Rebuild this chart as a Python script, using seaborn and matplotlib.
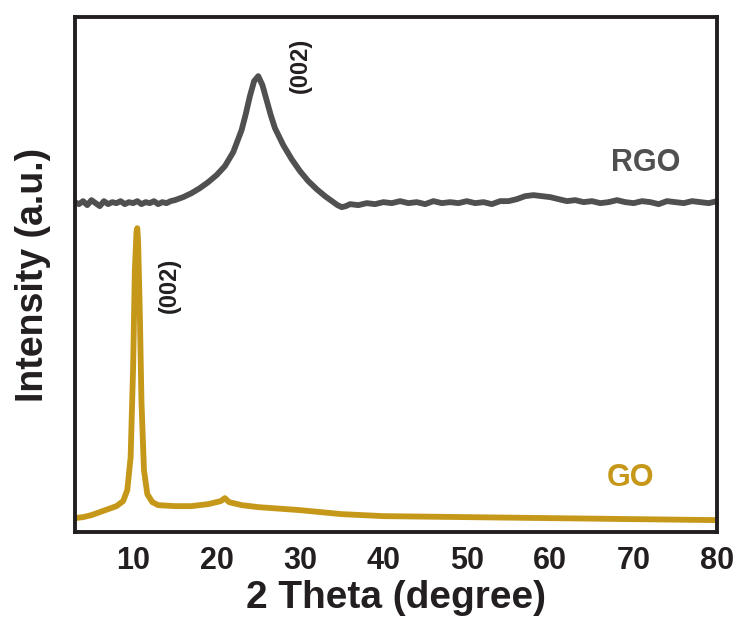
import numpy as np
import pandas as pd
import matplotlib
matplotlib.use("Agg")
import matplotlib.pyplot as plt
import seaborn as sns

# RGO pattern (2theta in degree, intensity in a.u., offset above GO)
rgo_theta = [3, 3.5, 4, 4.5, 5, 5.5, 6, 6.5, 7, 7.5, 8, 8.5, 9, 9.5, 10, 10.5, 11,
             11.5, 12, 12.5, 13, 13.5, 14, 14.5, 15, 16, 17, 18, 19, 20, 21, 22,
             23, 23.5, 24, 24.5, 25, 25.5, 26, 26.5, 27, 28, 29, 30, 31, 32, 33,
             34, 34.5, 35, 35.5, 36, 37, 38, 39, 40, 41, 42, 43, 44, 45, 46, 47,
             48, 49, 50, 51, 52, 53, 54, 55, 56, 57, 58, 59, 60, 61, 62, 63, 64,
             65, 66, 67, 68, 69, 70, 71, 72, 73, 74, 75, 76, 77, 78, 79, 80]
rgo_int = [330, 328, 331, 327, 332, 329, 326, 331, 328, 330, 329, 331, 328, 330, 329, 331, 328,
           330, 329, 331, 328, 330, 329, 331, 332, 335, 339, 344, 350, 357, 366, 380,
           402, 418, 436, 451, 456, 447, 432, 417, 404, 387, 373, 361, 351, 343, 336,
           330, 327, 325, 326, 328, 327, 329, 328, 330, 329, 331, 329, 330, 328, 331, 329,
           330, 329, 331, 329, 330, 328, 331, 331, 333, 336, 337, 336, 335, 333, 331, 332, 330,
           331, 329, 330, 332, 330, 329, 331, 330, 328, 331, 330, 329, 331, 330, 329, 331]

# GO pattern
go_theta = [3, 4, 5, 6, 7, 8, 8.8, 9.3, 9.7, 10.0, 10.2, 10.4, 10.5, 10.6, 10.8,
            11.0, 11.3, 11.7, 12.3, 13, 15, 17, 19, 20.5, 21, 21.5, 23, 25,
            30, 35, 40, 50, 60, 70, 80]
go_int = [14, 15, 17, 20, 23, 26, 31, 42, 75, 165, 260, 300, 304, 290, 220,
          130, 62, 38, 30, 27, 26, 26, 28, 31, 34, 30, 27, 25,
          22, 18, 16, 15, 14, 13, 12]

df = pd.concat([
    pd.DataFrame({"theta": rgo_theta, "intensity": rgo_int, "sample": "RGO"}),
    pd.DataFrame({"theta": go_theta, "intensity": go_int, "sample": "GO"}),
])

sns.set_style("white")
plt.rcParams["font.family"] = ["Liberation Sans", "DejaVu Sans"]
plt.rcParams["font.weight"] = "bold"

frame_color = "#231f20"
colors = {"RGO": "#505050", "GO": "#c6981a"}

fig = plt.figure(figsize=(7.4, 6.35), dpi=100)
ax = fig.add_axes([0.101, 0.162, 0.868, 0.811])

sns.lineplot(data=df, x="theta", y="intensity", hue="sample", palette=colors,
             linewidth=4.2, legend=False, ax=ax, sort=False, estimator=None)

ax.set_xlim(3, 80)
ax.set_ylim(0, 515)
ax.set_xticks(np.arange(10, 81, 10))
ax.set_xticks(np.arange(5, 80, 10), minor=True)
ax.set_yticks([])
ax.tick_params(axis="x", which="major", direction="out", length=6, width=2.5,
               colors=frame_color, labelsize=22, pad=4)
ax.tick_params(axis="x", which="minor", direction="out", length=4, width=2.5,
               colors=frame_color)
for lbl in ax.get_xticklabels():
    lbl.set_fontweight("bold")
for sp in ax.spines.values():
    sp.set_linewidth(2.8)
    sp.set_color(frame_color)

ax.set_xlabel("2 Theta (degree)", fontsize=28, fontweight="bold", color=frame_color, labelpad=3)
ax.set_ylabel("Intensity (a.u.)", fontsize=27, fontweight="bold", color=frame_color, labelpad=17)

ax.text(30.0, 467, "(002)", rotation=90, ha="center", va="center",
        fontsize=17, fontweight="bold", color=frame_color)
ax.text(14.4, 247, "(002)", rotation=90, ha="center", va="center",
        fontsize=17, fontweight="bold", color=frame_color)
ax.text(71.4, 369, "RGO", ha="center", va="center", fontsize=22,
        fontweight="bold", color=colors["RGO"])
ax.text(69.6, 54, "GO", ha="center", va="center", fontsize=22,
        fontweight="bold", color=colors["GO"])

fig.savefig("out.png", dpi=100)
